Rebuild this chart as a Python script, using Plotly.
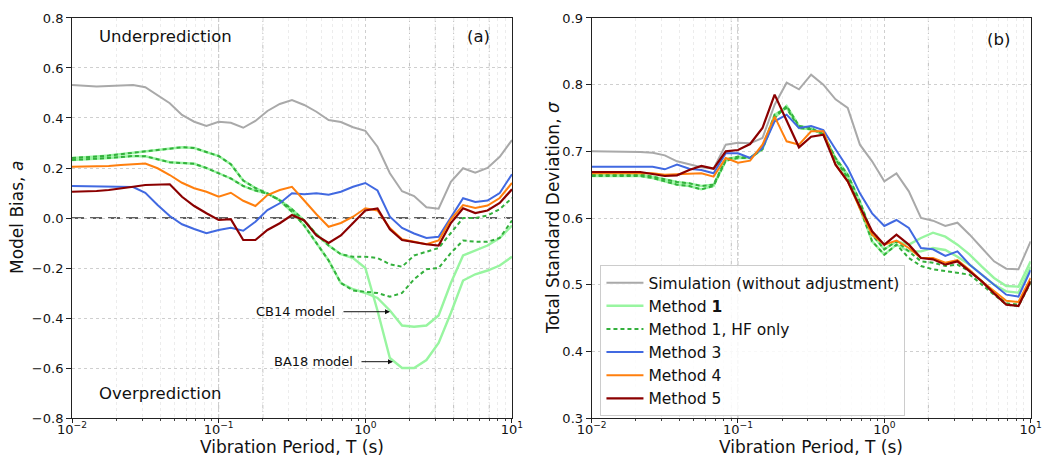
import plotly.graph_objects as go

# ---------------- data ----------------
periods = [0.01, 0.0121, 0.0147, 0.0178, 0.0215, 0.0261, 0.0316, 0.0383, 0.0464, 0.0562,
           0.0681, 0.0825, 0.1, 0.121, 0.147, 0.178, 0.215, 0.261, 0.316, 0.383,
           0.464, 0.562, 0.681, 0.825, 1.0, 1.21, 1.47, 1.78, 2.15, 2.61,
           3.16, 3.83, 4.64, 5.62, 6.81, 8.25, 10.0]

# (a) model bias
sim_bias = [0.532, 0.528, 0.526, 0.528, 0.530, 0.532, 0.523, 0.492, 0.459, 0.412,
            0.385, 0.368, 0.385, 0.381, 0.361, 0.388, 0.428, 0.456, 0.472, 0.452,
            0.425, 0.392, 0.384, 0.363, 0.349, 0.285, 0.179, 0.107, 0.088, 0.043,
            0.037, 0.145, 0.199, 0.181, 0.200, 0.245, 0.312]
m1_cb14_bias = [0.240, 0.242, 0.246, 0.250, 0.255, 0.260, 0.265, 0.270, 0.278, 0.283,
                0.280, 0.265, 0.248, 0.215, 0.150, 0.120, 0.098, 0.070, 0.025, -0.030,
                -0.100, -0.170, -0.260, -0.285, -0.300, -0.320, -0.370, -0.430, -0.435, -0.430,
                -0.390, -0.260, -0.150, -0.130, -0.110, -0.080, -0.030]
hf_cb14_bias = [0.240, 0.242, 0.246, 0.250, 0.255, 0.260, 0.265, 0.270, 0.278, 0.283,
                0.280, 0.265, 0.248, 0.215, 0.150, 0.120, 0.098, 0.070, 0.025, -0.030,
                -0.100, -0.170, -0.260, -0.290, -0.295, -0.300, -0.315, -0.300, -0.245, -0.205,
                -0.200, -0.140, -0.090, -0.095, -0.095, -0.080, -0.010]
m1_ba18_bias = [0.232, 0.234, 0.236, 0.240, 0.244, 0.248, 0.247, 0.235, 0.223, 0.220,
                0.217, 0.200, 0.180, 0.158, 0.128, 0.110, 0.098, 0.072, 0.035, -0.010,
                -0.065, -0.110, -0.145, -0.160, -0.200, -0.370, -0.560, -0.600, -0.600, -0.568,
                -0.500, -0.380, -0.250, -0.225, -0.210, -0.190, -0.155]
hf_ba18_bias = [0.232, 0.234, 0.236, 0.240, 0.244, 0.248, 0.247, 0.235, 0.223, 0.220,
                0.217, 0.200, 0.180, 0.158, 0.128, 0.110, 0.098, 0.072, 0.035, -0.010,
                -0.065, -0.110, -0.145, -0.155, -0.155, -0.160, -0.185, -0.195, -0.150, -0.135,
                -0.120, -0.060, 0.000, 0.000, 0.010, 0.035, 0.080]
m3_bias = [0.128, 0.127, 0.126, 0.126, 0.126, 0.124, 0.101, 0.052, 0.008, -0.025,
           -0.044, -0.061, -0.048, -0.039, -0.051, -0.015, 0.032, 0.059, 0.099, 0.095,
           0.099, 0.093, 0.105, 0.125, 0.140, 0.110, 0.005, -0.040, -0.062, -0.080,
           -0.075, 0.000, 0.079, 0.064, 0.070, 0.100, 0.175]
m4_bias = [0.205, 0.205, 0.206, 0.208, 0.212, 0.216, 0.218, 0.199, 0.172, 0.141,
           0.119, 0.105, 0.085, 0.101, 0.069, 0.048, 0.092, 0.112, 0.125, 0.070,
           0.015, -0.035, -0.020, 0.005, 0.039, 0.030, -0.040, -0.085, -0.096, -0.105,
           -0.090, -0.005, 0.052, 0.040, 0.050, 0.080, 0.140]
m5_bias = [0.105, 0.106, 0.108, 0.112, 0.117, 0.125, 0.132, 0.135, 0.135, 0.085,
           0.048, 0.019, -0.008, -0.005, -0.088, -0.088, -0.048, -0.021, 0.012, -0.010,
           -0.070, -0.100, -0.070, -0.020, 0.030, 0.038, -0.045, -0.088, -0.096, -0.105,
           -0.110, -0.020, 0.039, 0.020, 0.030, 0.060, 0.115]

# (b) total standard deviation
sim_sigma = [0.700, 0.700, 0.700, 0.699, 0.699, 0.698, 0.694, 0.685, 0.680, 0.676,
             0.674, 0.710, 0.713, 0.712, 0.720, 0.770, 0.803, 0.793, 0.815, 0.800,
             0.778, 0.765, 0.710, 0.685, 0.655, 0.667, 0.640, 0.600, 0.596, 0.588,
             0.593, 0.575, 0.555, 0.535, 0.524, 0.523, 0.565]
m1_cb14_sigma = [0.665, 0.665, 0.665, 0.665, 0.665, 0.662, 0.658, 0.654, 0.652, 0.648,
                 0.650, 0.688, 0.692, 0.690, 0.705, 0.755, 0.765, 0.735, 0.733, 0.726,
                 0.690, 0.665, 0.625, 0.575, 0.553, 0.565, 0.560, 0.570, 0.578, 0.572,
                 0.560, 0.545, 0.527, 0.510, 0.498, 0.497, 0.535]
hf_cb14_sigma = [0.665, 0.665, 0.665, 0.665, 0.665, 0.662, 0.658, 0.654, 0.652, 0.648,
                 0.650, 0.688, 0.692, 0.690, 0.705, 0.755, 0.765, 0.735, 0.733, 0.726,
                 0.690, 0.665, 0.625, 0.575, 0.553, 0.565, 0.550, 0.535, 0.533, 0.528,
                 0.530, 0.520, 0.505, 0.487, 0.472, 0.470, 0.505]
m1_ba18_sigma = [0.663, 0.663, 0.663, 0.663, 0.663, 0.660, 0.655, 0.650, 0.648, 0.643,
                 0.648, 0.686, 0.690, 0.690, 0.703, 0.750, 0.768, 0.738, 0.735, 0.725,
                 0.688, 0.660, 0.615, 0.565, 0.545, 0.560, 0.550, 0.550, 0.555, 0.552,
                 0.542, 0.530, 0.515, 0.500, 0.490, 0.488, 0.527]
hf_ba18_sigma = [0.663, 0.663, 0.663, 0.663, 0.663, 0.660, 0.655, 0.650, 0.648, 0.643,
                 0.648, 0.686, 0.690, 0.690, 0.703, 0.750, 0.768, 0.738, 0.735, 0.725,
                 0.688, 0.660, 0.615, 0.565, 0.545, 0.560, 0.540, 0.528, 0.523, 0.520,
                 0.518, 0.515, 0.500, 0.485, 0.470, 0.468, 0.503]
m3_sigma = [0.677, 0.677, 0.677, 0.677, 0.678, 0.677, 0.673, 0.680, 0.674, 0.672,
            0.667, 0.697, 0.697, 0.690, 0.705, 0.745, 0.755, 0.735, 0.738, 0.732,
            0.703, 0.675, 0.637, 0.607, 0.588, 0.597, 0.585, 0.555, 0.553, 0.543,
            0.550, 0.530, 0.515, 0.500, 0.485, 0.482, 0.522]
m4_sigma = [0.667, 0.667, 0.667, 0.667, 0.667, 0.667, 0.665, 0.666, 0.667, 0.667,
            0.662, 0.690, 0.683, 0.686, 0.710, 0.752, 0.715, 0.710, 0.730, 0.730,
            0.680, 0.655, 0.614, 0.575, 0.560, 0.566, 0.555, 0.540, 0.540, 0.533,
            0.537, 0.522, 0.505, 0.490, 0.476, 0.474, 0.510]
m5_sigma = [0.669, 0.669, 0.669, 0.669, 0.669, 0.666, 0.663, 0.664, 0.672, 0.678,
            0.674, 0.700, 0.702, 0.711, 0.735, 0.785, 0.745, 0.706, 0.722, 0.725,
            0.680, 0.655, 0.617, 0.580, 0.560, 0.575, 0.560, 0.540, 0.538, 0.530,
            0.535, 0.520, 0.505, 0.487, 0.470, 0.468, 0.505]

x_tick_vals = [0.01, 0.1, 1, 10]
x_tick_text = ["10<sup>\u22122</sup>", "10<sup>\u22121</sup>", "10<sup>0</sup>", "10<sup>1</sup>"]
x_minor_vals = [0.02, 0.03, 0.04, 0.05, 0.06, 0.07, 0.08, 0.09,
                0.2, 0.3, 0.4, 0.5, 0.6, 0.7, 0.8, 0.9,
                2, 3, 4, 5, 6, 7, 8, 9]
bias_ticks = [-0.8, -0.6, -0.4, -0.2, 0.0, 0.2, 0.4, 0.6, 0.8]
bias_tick_text = ["\u22120.8", "\u22120.6", "\u22120.4", "\u22120.2", "0.0", "0.2", "0.4", "0.6", "0.8"]
sigma_ticks = [0.3, 0.4, 0.5, 0.6, 0.7, 0.8, 0.9]
sigma_tick_text = ["0.3", "0.4", "0.5", "0.6", "0.7", "0.8", "0.9"]
marker_periods_a = [0.1, 0.2, 2, 3, 4, 7]
marker_periods_b = [0.09, 0.1, 2]

# ---------------- styling ----------------
FONT = "DejaVu Sans, sans-serif"
TXT = "#111111"
C_SIM = "#a9a9a9"
C_M1 = "#98f5a0"
C_HF = "#33b03c"
C_M3 = "#4169e1"
C_M4 = "#ff7f0e"
C_M5 = "#8b0000"

fig = go.Figure()

series = [
    ("Simulation (without adjustment)", sim_bias, sim_sigma, C_SIM, 2.0, "solid", True),
    ("Method <b>1</b>", m1_cb14_bias, m1_cb14_sigma, C_M1, 2.4, "solid", True),
    ("Method <b>1</b>", m1_ba18_bias, m1_ba18_sigma, C_M1, 2.4, "solid", False),
    ("Method 1, HF only", hf_cb14_bias, hf_cb14_sigma, C_HF, 2.0, "4px,3px", True),
    ("Method 1, HF only", hf_ba18_bias, hf_ba18_sigma, C_HF, 2.0, "4px,3px", False),
    ("Method 3", m3_bias, m3_sigma, C_M3, 2.0, "solid", True),
    ("Method 4", m4_bias, m4_sigma, C_M4, 2.0, "solid", True),
    ("Method 5", m5_bias, m5_sigma, C_M5, 2.2, "solid", True),
]

for rank, (name, yb, ys, col, w, dash, leg) in enumerate(series):
    fig.add_trace(go.Scatter(x=periods, y=yb, mode="lines", name=name,
                             line=dict(color=col, width=w, dash=dash),
                             xaxis="x", yaxis="y", showlegend=False, hoverinfo="skip"))
    fig.add_trace(go.Scatter(x=periods, y=ys, mode="lines", name=name,
                             line=dict(color=col, width=w, dash=dash),
                             xaxis="x2", yaxis="y2", showlegend=leg,
                             legendrank=rank + 1, hoverinfo="skip"))

common_x = dict(type="log", range=[-2, 1], tickmode="array", tickvals=x_tick_vals,
                ticktext=x_tick_text, ticks="outside", ticklen=4, tickwidth=1,
                tickcolor="#222", showline=True, mirror=True, linecolor="#222",
                linewidth=1, showgrid=True, gridcolor="#cfcfcf", griddash="dot",
                gridwidth=1, zeroline=False, automargin=False, ticklabelstandoff=-5,
                tickfont=dict(family=FONT, size=13, color=TXT),
                minor=dict(tickvals=x_minor_vals, ticks="outside", ticklen=2,
                           tickcolor="#444", showgrid=True, gridcolor="#ececec",
                           griddash="dot", gridwidth=1))
common_y = dict(ticks="outside", ticklen=5, tickwidth=1, tickcolor="#222",
                showline=True, mirror=True, linecolor="#222", linewidth=1,
                showgrid=True, gridcolor="#cfcfcf", griddash="dot", gridwidth=1,
                zeroline=False, tickmode="array", automargin=False,
                tickfont=dict(family=FONT, size=13, color=TXT))

Y_DOM = [0.0893, 0.9608]
fig.update_layout(
    template="none",
    width=1047, height=459,
    margin=dict(l=0, r=0, t=0, b=0, pad=0, autoexpand=False),
    paper_bgcolor="white", plot_bgcolor="white",
    font=dict(family=FONT, color=TXT),
    xaxis=dict(common_x, domain=[0.0688, 0.489], anchor="y"),
    yaxis=dict(common_y, domain=Y_DOM, range=[-0.8, 0.8], tickvals=bias_ticks,
               ticktext=bias_tick_text, anchor="x"),
    xaxis2=dict(common_x, domain=[0.5651, 0.9844], anchor="y2"),
    yaxis2=dict(common_y, domain=Y_DOM, range=[0.3, 0.9], tickvals=sigma_ticks,
                ticktext=sigma_tick_text, anchor="x2"),
    legend=dict(x=0.5735, y=0.4225, xanchor="left", yanchor="top",
                bgcolor="rgba(255,255,255,0.85)", bordercolor="#cccccc",
                borderwidth=1, font=dict(family=FONT, size=15.5, color=TXT),
                itemwidth=37, tracegroupgap=0),
    showlegend=True,
)

shapes = []
for p in marker_periods_a:
    shapes.append(dict(type="line", xref="x", yref="y domain", x0=p, x1=p, y0=0, y1=1,
                       line=dict(color="#c0c0c0", width=1, dash="4px,2px,1px,2px"), layer="below"))
for p in marker_periods_b:
    shapes.append(dict(type="line", xref="x2", yref="y2 domain", x0=p, x1=p, y0=0, y1=1,
                       line=dict(color="#c0c0c0", width=1, dash="4px,2px,1px,2px"), layer="below"))
shapes.append(dict(type="line", xref="x domain", yref="y", x0=0, x1=1, y0=0, y1=0,
                   line=dict(color="#606060", width=2, dash="12px,6px"), layer="below"))
fig.update_layout(shapes=shapes)

ann = []
def text(x, y, s, xref, yref, size, xanchor="left", yanchor="middle", angle=0):
    ann.append(dict(x=x, y=y, xref=xref, yref=yref, text=s, showarrow=False,
                    xanchor=xanchor, yanchor=yanchor, textangle=angle,
                    font=dict(family=FONT, size=size, color=TXT)))

text(0.057, 0.9525, "Underprediction", "x domain", "y domain", 16.5)
text(0.057, 0.0625, "Overprediction", "x domain", "y domain", 16.5)
text(0.9545, 0.9525, "(a)", "x domain", "y domain", 16.5, xanchor="right")
text(0.957, 0.9456, "(b)", "x2 domain", "y2 domain", 16.5, xanchor="right")
text(0.6016, 0.2657, "CB14 model", "x domain", "y domain", 13, xanchor="right")
text(0.643, 0.1408, "BA18 model", "x domain", "y domain", 13, xanchor="right")
text(292 / 1047, 0.0, "Vibration Period, T (s)", "paper", "paper", 17, xanchor="center", yanchor="bottom")
text(811 / 1047, 0.0, "Vibration Period, T (s)", "paper", "paper", 17, xanchor="center", yanchor="bottom")
text(17 / 1047, 0.525, "Model Bias, <i>a</i>", "paper", "paper", 17, xanchor="center", angle=-90)
text(553 / 1047, 0.525, "Total Standard Deviation, <i>\u03c3</i>", "paper", "paper", 17,
     xanchor="center", angle=-90)

for tipx, tipy, dx in [(0.7227, 0.2657, -48), (0.7295, 0.1408, -33)]:
    ann.append(dict(x=tipx, y=tipy, xref="x domain", yref="y domain", ax=dx, ay=0,
                    axref="pixel", ayref="pixel", text="", showarrow=True,
                    arrowhead=2, arrowsize=1, arrowwidth=1, arrowcolor="#111"))

fig.update_layout(annotations=ann)

fig.write_html("out.html", include_plotlyjs=True, config={"displayModeBar": False},
               post_script="document.body.style.margin='0';document.body.style.overflow='hidden';")
